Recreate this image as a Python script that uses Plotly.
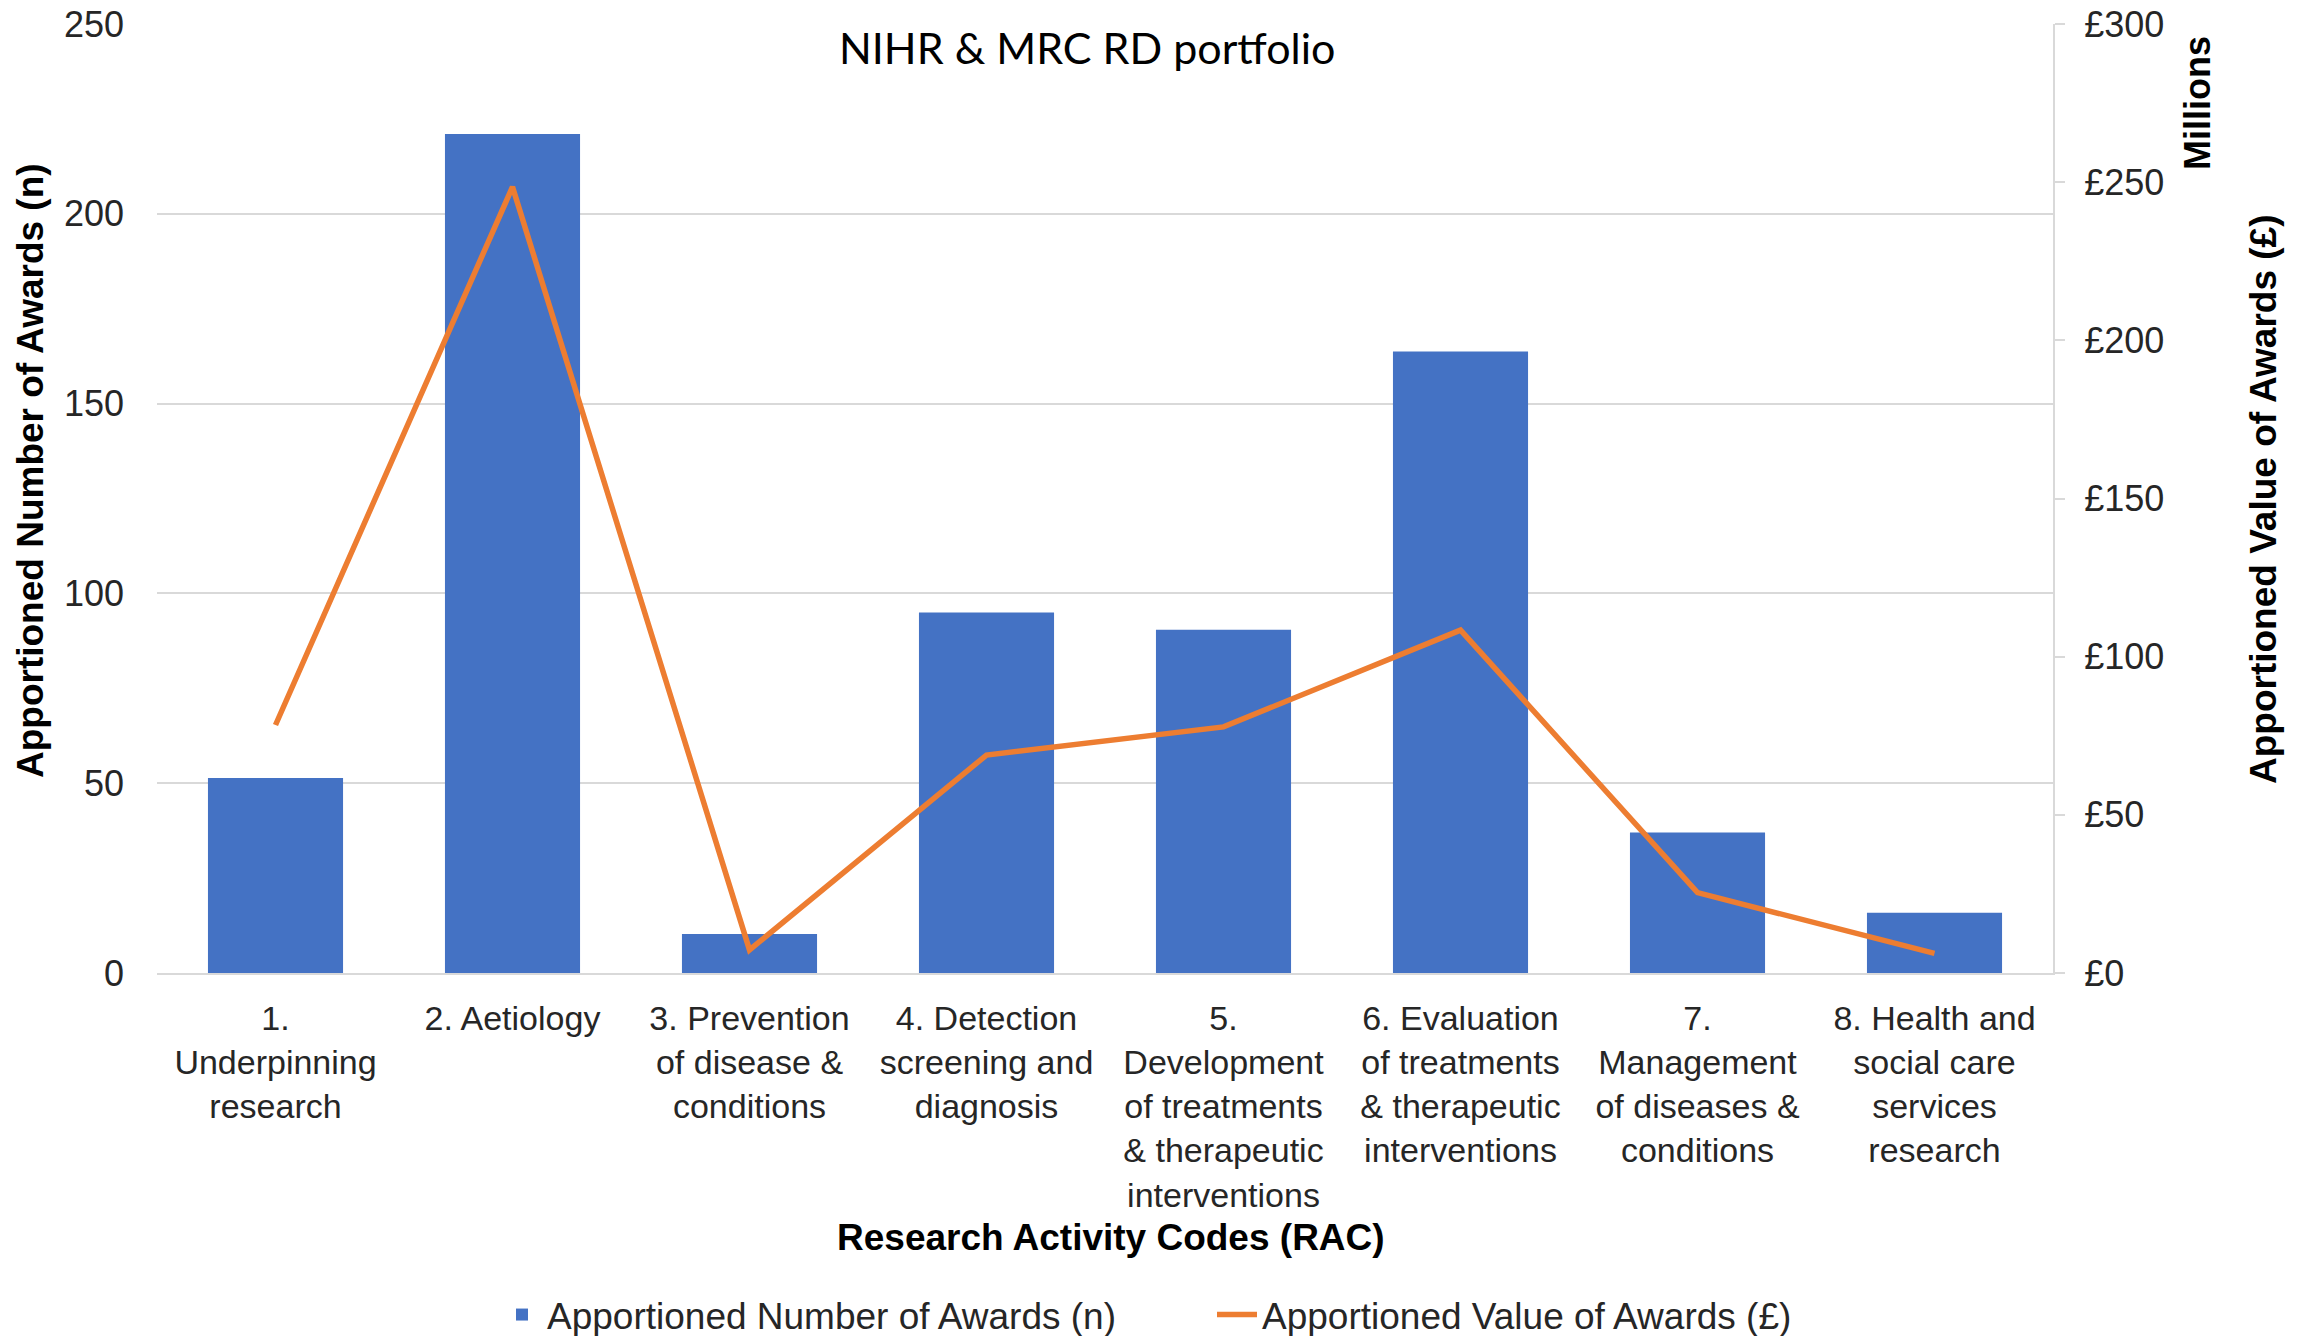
import plotly.graph_objects as go

categories = [
    "1.<br>Underpinning<br>research",
    "2. Aetiology",
    "3. Prevention<br>of disease &<br>conditions",
    "4. Detection<br>screening and<br>diagnosis",
    "5.<br>Development<br>of treatments<br>& therapeutic<br>interventions",
    "6. Evaluation<br>of treatments<br>& therapeutic<br>interventions",
    "7.<br>Management<br>of diseases &<br>conditions",
    "8. Health and<br>social care<br>services<br>research",
]
num_awards = [51.4, 221, 10.3, 95, 90.4, 163.7, 37, 15.9]
value_millions = [78.4, 248.5, 7.3, 68.9, 77.8, 108.4, 25.4, 6.2]

left_ticks = [0, 50, 100, 150, 200, 250]
right_ticks = [0, 50, 100, 150, 200, 250, 300]
right_ticktext = ["£" + str(v) for v in right_ticks]

FONT = "Liberation Sans, Arial, sans-serif"
GRID = "#d9d9d9"

# plot area in pixels
PL, PR, PT, PB = 157, 2053, 24, 973
PW, PH = PR - PL, PB - PT


def px_x(x):
    return (x - PL) / PW


def px_y(y):
    return (PB - y) / PH


fig = go.Figure()
fig.add_trace(go.Bar(
    x=categories, y=num_awards, name="Apportioned Number of Awards (n)",
    marker=dict(color="#4472C4", line=dict(width=0)), yaxis="y",
))
fig.add_trace(go.Scatter(
    x=categories, y=value_millions, name="Apportioned Value of Awards (£)",
    mode="lines", line=dict(color="#ED7D31", width=5.5), yaxis="y2",
))

fig.update_layout(
    width=2308, height=1336,
    margin=dict(l=PL, r=2308 - PR, t=PT, b=1336 - PB, autoexpand=False),
    paper_bgcolor="white", plot_bgcolor="white",
    font=dict(family=FONT, size=36, color="#262626"),
    bargap=0.43,
    showlegend=True,
    legend=dict(orientation="h", x=px_x(497), xanchor="left", y=px_y(1315), yanchor="middle",
                font=dict(size=37, color="#262626"), itemwidth=40,
                entrywidth=660, entrywidthmode="pixels"),
    xaxis=dict(
        showgrid=False, showline=True, linecolor=GRID, linewidth=2,
        ticks="", tickfont=dict(size=34), tickangle=0, ticklabelstandoff=14,
        automargin=False,
    ),
    yaxis=dict(
        range=[0, 250], tickvals=left_ticks, showgrid=True, gridcolor=GRID, gridwidth=2,
        zeroline=False, showline=False, ticks="", tickfont=dict(size=36),
        ticklabelstandoff=32, automargin=False,
    ),
    yaxis2=dict(
        range=[0, 300], tickvals=right_ticks, ticktext=right_ticktext,
        overlaying="y", side="right", showgrid=False, zeroline=False,
        showline=True, linecolor=GRID, linewidth=2, ticks="outside", ticklen=10,
        tickcolor=GRID, tickwidth=2, tickfont=dict(size=36), ticklabelstandoff=12,
        automargin=False,
    ),
    annotations=[
        dict(text="NIHR & MRC RD portfolio", xref="paper", yref="paper",
             x=px_x(1087), y=px_y(47), showarrow=False, xanchor="center", yanchor="middle",
             font=dict(family="Lato, Carlito, Calibri, sans-serif", size=43, color="black")),
        dict(text="<b>Apportioned Number of Awards (n)</b>", xref="paper", yref="paper",
             x=px_x(30), y=px_y(471), textangle=-90, showarrow=False,
             xanchor="center", yanchor="middle", font=dict(size=37, color="black")),
        dict(text="<b>Apportioned Value of Awards (£)</b>", xref="paper", yref="paper",
             x=px_x(2263), y=px_y(500), textangle=-90, showarrow=False,
             xanchor="center", yanchor="middle", font=dict(size=37, color="black")),
        dict(text="<b>Millions</b>", xref="paper", yref="paper",
             x=px_x(2198), y=px_y(103), textangle=-90, showarrow=False,
             xanchor="center", yanchor="middle", font=dict(size=36, color="black")),
        dict(text="<b>Research Activity Codes (RAC)</b>", xref="paper", yref="paper",
             x=px_x(1111), y=px_y(1237), showarrow=False,
             xanchor="center", yanchor="middle", font=dict(size=37, color="black")),
    ],
)

fig.write_html(
    "out.html",
    config={"displayModeBar": False},
    post_script="document.body.style.margin='0';document.body.style.overflow='hidden';",
)
